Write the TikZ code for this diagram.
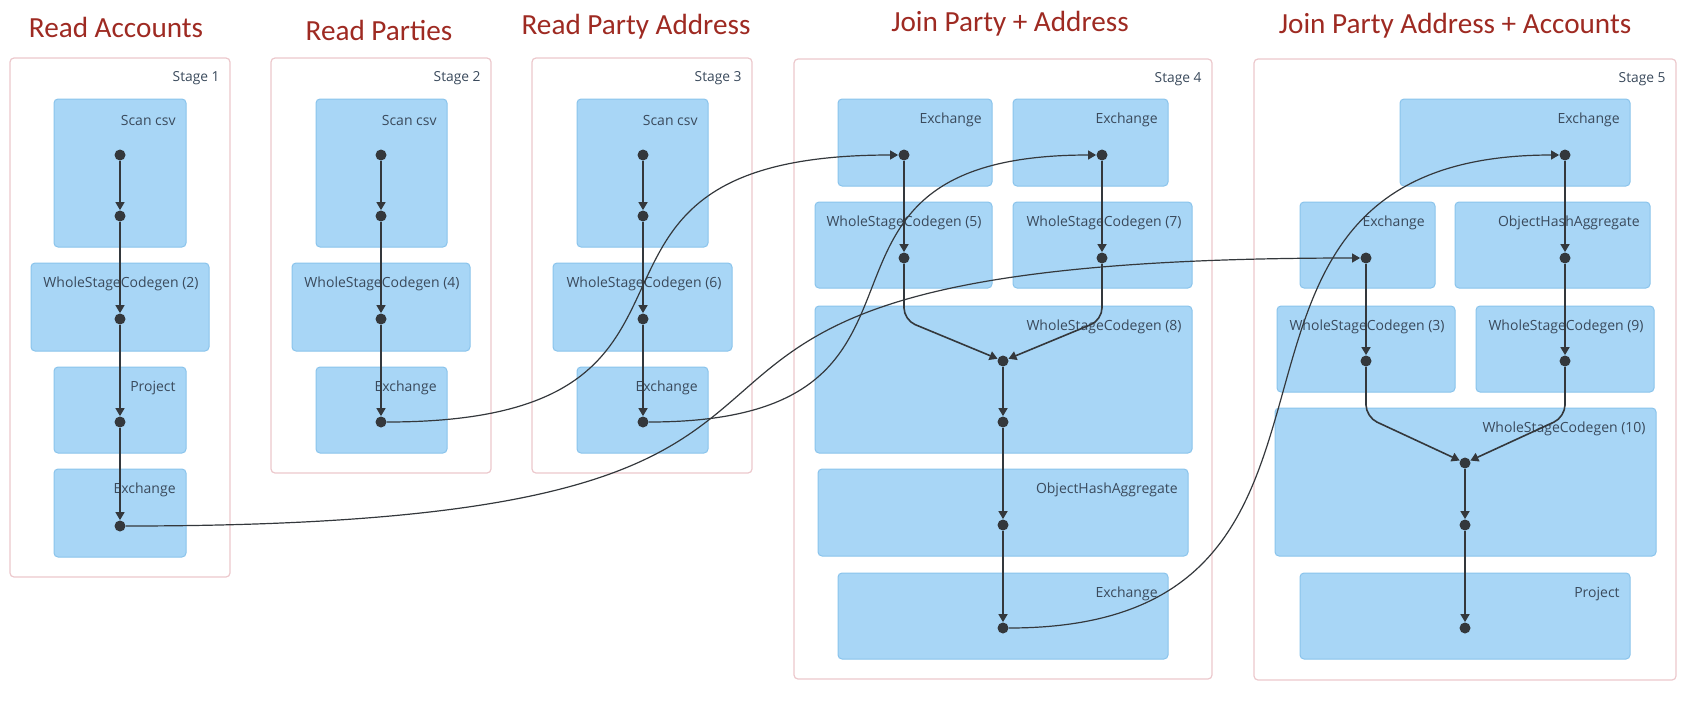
\documentclass[tikz,border=0pt]{standalone}
\usepackage{fontspec}
\setmainfont{Open Sans}
\newfontfamily\titlefont{Carlito}
\usetikzlibrary{arrows.meta}
\definecolor{opblue}{RGB}{168,214,246}
\definecolor{opline}{RGB}{138,196,236}
\definecolor{stagepink}{RGB}{236,200,204}
\definecolor{titlered}{RGB}{158,42,34}
\definecolor{optext}{RGB}{58,74,92}
\definecolor{edgegray}{RGB}{52,56,60}
\tikzstyle{stagebox}=[draw=stagepink, line width=0.6pt, rounded corners=2pt, fill=white]
\tikzstyle{opbox}=[draw=opline, fill=opblue, line width=0.5pt, rounded corners=2pt]
\tikzstyle{oplabel}=[anchor=east, inner sep=0pt, text=optext, font=\fontsize{7}{9}\selectfont]
\tikzstyle{stagelabel}=[anchor=east, inner sep=0pt, text=optext, font=\fontsize{6.9}{8}\selectfont]
\tikzstyle{title}=[text=titlered, font=\titlefont\fontsize{14.6}{17}\selectfont]
\tikzstyle{dot}=[circle, fill=edgegray, inner sep=0pt, minimum size=5.5pt]
\tikzstyle{flow}=[draw=edgegray, line width=0.8pt, -{Triangle[length=4pt,width=4.5pt]}]
\tikzstyle{crossflow}=[flow, line width=0.6pt]
\newcommand{\drawStage}[6]{
  \draw[stagebox] (#2,#3) rectangle (#4,#5);
  \node[stagelabel] (#1) at (#4-10,#3+20) {#6};
}
\newcommand{\drawOp}[6]{
  \draw[opbox] (#2,#3) rectangle (#4,#5);
  \node[oplabel] (#1) at (#4-10,#3+21) {#6};
}

\begin{document}
\begin{tikzpicture}[x=0.5pt,y=-0.5pt]
	\useasboundingbox (0,0) rectangle (1691,702);
	% titles
	\node[title] (t1) at (116,27) {Read Accounts};
	\node[title] (t2) at (379,30) {Read Parties};
	\node[title] (t3) at (636,27) {Read Party Address};
	\node[title] (t4) at (1010,24) {Join Party + Address};
	\node[title] (t5) at (1455,26) {Join Party Address + Accounts};
	% stages
	\drawStage{st1}{10}{58}{230}{577}{Stage 1}
	\drawStage{st2}{271}{58}{491}{473}{Stage 2}
	\drawStage{st3}{532}{58}{752}{473}{Stage 3}
	\drawStage{st4}{794}{59}{1212}{679}{Stage 4}
	\drawStage{st5}{1254}{59}{1676}{680}{Stage 5}
	% stage 1
	\drawOp{l1a}{54}{99}{186}{247}{Scan csv}
	\drawOp{l1b}{31}{263}{209}{351}{WholeStageCodegen (2)}
	\drawOp{l1c}{54}{367}{186}{453}{Project}
	\drawOp{l1d}{54}{469}{186}{557}{Exchange}
	% stage 2
	\drawOp{l2a}{316}{99}{447}{247}{Scan csv}
	\drawOp{l2b}{292}{263}{470}{351}{WholeStageCodegen (4)}
	\drawOp{l2c}{316}{367}{447}{453}{Exchange}
	% stage 3
	\drawOp{l3a}{577}{99}{708}{247}{Scan csv}
	\drawOp{l3b}{553}{263}{732}{351}{WholeStageCodegen (6)}
	\drawOp{l3c}{577}{367}{708}{453}{Exchange}
	% stage 4
	\drawOp{l4a}{838}{99}{992}{186}{Exchange}
	\drawOp{l4b}{1013}{99}{1168}{186}{Exchange}
	\drawOp{l4c}{815}{202}{992}{288}{WholeStageCodegen (5)}
	\drawOp{l4d}{1013}{202}{1192}{288}{WholeStageCodegen (7)}
	\drawOp{l4e}{815}{306}{1192}{453}{WholeStageCodegen (8)}
	\drawOp{l4f}{818}{469}{1188}{556}{ObjectHashAggregate}
	\drawOp{l4g}{838}{573}{1168}{659}{Exchange}
	% stage 5
	\drawOp{l5a}{1400}{99}{1630}{186}{Exchange}
	\drawOp{l5b}{1300}{202}{1435}{288}{Exchange}
	\drawOp{l5c}{1455}{202}{1650}{288}{ObjectHashAggregate}
	\drawOp{l5d}{1277}{306}{1455}{392}{WholeStageCodegen (3)}
	\drawOp{l5e}{1476}{306}{1654}{392}{WholeStageCodegen (9)}
	\drawOp{l5f}{1275}{408}{1656}{556}{WholeStageCodegen (10)}
	\drawOp{l5g}{1300}{573}{1630}{659}{Project}
	% dots
	\foreach \n/\y in {a/155,b/216,c/319,d/422,e/526}
		\node[dot] (s1\n) at (120,\y) {};
	\foreach \n/\y in {a/155,b/216,c/319,d/422} {
		\node[dot] (s2\n) at (381,\y) {};
		\node[dot] (s3\n) at (643,\y) {};
	}
	\node[dot] (s4a) at (904,155) {};
	\node[dot] (s4b) at (1102,155) {};
	\node[dot] (s4c) at (904,258) {};
	\node[dot] (s4d) at (1102,258) {};
	\node[dot] (s4e) at (1003,361) {};
	\node[dot] (s4f) at (1003,422) {};
	\node[dot] (s4g) at (1003,525) {};
	\node[dot] (s4h) at (1003,628) {};
	\node[dot] (s5a) at (1565,155) {};
	\node[dot] (s5b) at (1366,258) {};
	\node[dot] (s5c) at (1565,258) {};
	\node[dot] (s5d) at (1366,361) {};
	\node[dot] (s5e) at (1565,361) {};
	\node[dot] (s5f) at (1465,463) {};
	\node[dot] (s5g) at (1465,525) {};
	\node[dot] (s5h) at (1465,628) {};
	% edges inside the stages
	\foreach \a/\b in {s1a/s1b,s1b/s1c,s1c/s1d,s1d/s1e,s2a/s2b,s2b/s2c,s2c/s2d,
		s3a/s3b,s3b/s3c,s3c/s3d,s4a/s4c,s4b/s4d,s4e/s4f,s4f/s4g,s4g/s4h,
		s5a/s5c,s5c/s5e,s5b/s5d,s5f/s5g,s5g/s5h}
		\draw[flow] (\a) -- (\b);
	\draw[flow,rounded corners=6pt] (s4c) -- ++(0,62) -- (s4e);
	\draw[flow,rounded corners=6pt] (s4d) -- ++(0,62) -- (s4e);
	\draw[flow,rounded corners=6pt] (s5d) -- ++(0,56) -- (s5f);
	\draw[flow,rounded corners=6pt] (s5e) -- ++(0,56) -- (s5f);
	% edges between the stages
	\draw[crossflow] (s2d) .. controls +(390,0) and +(-390,0) .. (s4a);
	\draw[crossflow] (s3d) .. controls +(345,0) and +(-345,0) .. (s4b);
	\draw[crossflow] (s1e) .. controls +(930,0) and +(-930,0) .. (s5b);
	\draw[crossflow] (s4h) .. controls +(420,0) and +(-420,0) .. (s5a);
\end{tikzpicture}
\end{document}
